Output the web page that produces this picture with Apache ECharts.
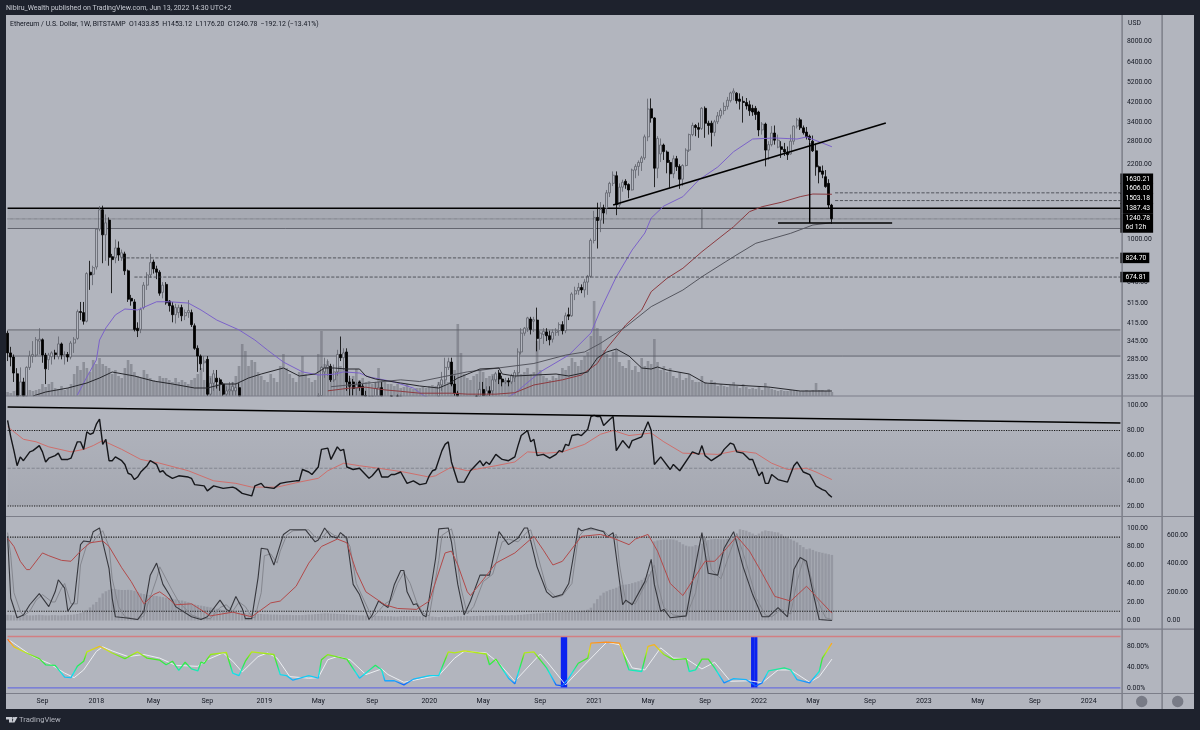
<!DOCTYPE html>
<html>
<head>
<meta charset="utf-8">
<title>Ethereum / U.S. Dollar</title>
<script src="https://cdn.jsdelivr.net/npm/echarts@6/dist/echarts.min.js"></script>
<style>
html, body { margin: 0; padding: 0; background: #1e222d; }
#chart { width: 1200px; height: 730px; }
</style>
</head>
<body>
<div id="chart"></div>
<script>
// weekly bars, week 0 = 2017-06-19, last bar = 2022-06-13
const weekCount = 352;
const xTickWeeks = [11, 28, 46, 63, 81, 98, 115, 133, 150, 168, 185, 202, 220, 237, 254, 272, 289, 306, 324, 341];
const xTickLabels = ['Sep', '2018', 'May', 'Sep', '2019', 'May', 'Sep', '2020', 'May', 'Sep', '2021', 'May', 'Sep', '2022', 'May', 'Sep', '2023', 'May', 'Sep', '2024'];
const priceTicks = [8000, 6400, 5200, 4200, 3400, 2800, 2200, 1000, 830, 640, 515, 415, 345, 285, 235];
const rsiTicks = [20, 40, 60, 80, 100];
const stochTicks = [0, 20, 40, 60, 80, 100];
const stochVolumeTicks = [0, 200, 400, 600];
const cycleTicks = [0, 40, 80];

// open, close, low, high
const candles = [
  [375,305,280,385],[305,292,265,325],[292,247,225,300],[245,190,150,260],[195,225,190,262],[225,190,170,235],[190,262,185,265],[262,295,255,312],[295,300,275,345],[298,350,292,360],
  [345,352,300,395],[350,298,275,355],[298,258,220,305],[284,298,255,305],[293,305,270,310],[305,300,285,315],[293,335,285,362],[335,298,285,340],[296,300,270,310],[300,292,278,308],
  [292,338,285,345],[338,352,305,360],[355,470,350,480],[470,466,430,520],[465,425,410,520],[425,700,420,710],[710,690,590,800],[695,745,620,760],[750,1115,730,1125],[1115,1365,1090,1420],
  [1365,1050,780,1425],[1050,1190,800,1300],[1225,830,760,1260],[835,810,570,860],[825,915,780,1000],[915,850,800,980],[830,870,800,900],[860,720,690,880],[720,535,520,730],[540,525,500,560],
  [520,390,382,535],[395,385,360,420],[390,480,375,490],[490,620,480,640],[620,690,590,710],[690,785,670,860],[790,735,700,810],[735,710,660,760],[710,570,555,725],[575,620,540,640],
  [625,515,505,640],[525,500,470,530],[500,455,420,520],[455,490,415,510],[465,490,440,505],[490,450,425,505],[450,465,430,480],[465,475,440,530],[465,410,400,480],[405,320,315,415],
  [320,295,250,330],[295,272,255,300],[275,280,250,295],[285,198,170,295],[198,222,165,235],[222,245,205,255],[234,225,210,255],[230,220,205,235],[220,198,190,225],[198,205,190,215],
  [205,208,195,225],[205,215,195,225],[205,212,195,222],[212,175,170,222],[175,115,105,180],[115,113,100,125],[115,85,83,120],[85,83,80,100],[84,130,80,150],[130,138,115,160],
  [138,155,125,160],[155,125,115,160],[125,118,115,130],[118,115,105,125],[115,107,102,120],[107,120,102,125],[120,122,118,130],[122,157,118,167],[157,130,125,160],[130,134,125,142],
  [134,134,128,140],[134,135,130,140],[135,164,132,170],[164,165,155,185],[165,167,155,190],[167,170,155,178],[170,155,145,175],[155,160,150,175],[160,195,155,200],[195,262,190,265],
  [250,262,235,290],[262,268,240,285],[265,230,225,272],[230,250,225,270],[250,300,240,315],[300,290,280,362],[290,305,255,320],[308,225,205,320],[225,215,185,240],[225,210,195,232],
  [210,218,195,225],[225,212,205,228],[215,195,170,220],[195,185,170,205],[185,172,165,195],[172,178,165,195],[178,210,170,225],[180,212,170,225],[212,172,155,225],[172,175,160,185],
  [175,180,165,185],[180,170,160,195],[170,160,155,180],[160,182,155,197],[182,185,175,197],[185,185,175,190],[185,150,140,190],[150,150,140,155],[150,148,140,155],[148,145,135,150],
  [145,133,130,150],[133,130,122,135],[130,135,125,150],[135,145,130,150],[145,165,140,175],[165,178,155,185],[178,218,170,225],[218,230,205,250],[230,262,220,290],[262,278,255,290],
  [277,220,215,290],[220,200,190,240],[200,132,105,205],[132,125,110,140],[125,135,120,145],[135,140,125,150],[140,155,135,175],[155,170,150,180],[170,185,150,195],[185,208,180,225],
  [208,195,190,225],[195,205,185,215],[205,200,180,215],[205,230,195,240],[230,245,225,250],[247,232,220,255],[232,225,215,240],[225,228,220,235],[228,225,215,235],[225,240,220,245],
  [235,248,225,255],[248,308,240,320],[308,375,300,395],[375,395,365,400],[395,440,380,445],[435,390,370,445],[425,432,380,445],[430,355,310,490],[355,375,315,385],[370,382,335,395],
  [380,365,345,395],[365,350,330,385],[352,378,340,390],[378,385,365,395],[385,410,365,420],[410,385,370,425],[385,450,375,465],[455,448,430,490],[450,565,445,575],[565,585,530,610],
  [585,605,560,635],[605,590,570,625],[590,640,545,660],[640,680,560,690],[680,990,670,1010],[990,1260,960,1350],[1260,1220,910,1470],[1225,1370,1080,1480],[1390,1320,1180,1440],[1390,1630,1300,1680],
  [1630,1800,1560,1830],[1800,1960,1750,2040],[1950,1440,1290,2040],[1440,1730,1400,1800],[1730,1820,1650,1870],[1840,1770,1700,1880],[1780,1680,1540,1800],[1680,2070,1670,2100],[2070,2150,1900,2200],[2150,2240,1950,2290],
  [2240,2350,2050,2400],[2350,2930,2300,3000],[2930,3920,2800,4370],[3930,3570,3400,4380],[3570,2110,1730,3600],[2110,2880,1900,2950],[2450,2690,2250,2880],[2690,2510,2300,2730],[2500,2240,2000,2540],[2240,1990,1720,2300],
  [1990,2330,1900,2410],[2330,2140,2050,2400],[2150,1880,1700,2200],[1880,2170,1750,2200],[2170,2550,2150,2600],[2550,3000,2500,3030],[3000,3300,2950,3400],[3300,3230,2950,3350],[3230,3170,2900,3400],[3200,3950,3150,4000],
  [3950,3380,2900,4030],[3380,3300,3000,3470],[3380,3070,2650,3470],[3070,3430,2950,3500],[3430,3650,3350,3800],[3650,3860,3550,3950],[3860,4030,3700,4200],[4030,4300,3900,4450],[4280,4640,4200,4700],[4640,4730,4300,4870],
  [4630,4280,4150,4680],[4350,4250,3900,4620],[4250,4200,3400,4480],[4200,4050,3900,4400],[4100,3850,3650,4280],[3950,3800,3650,4100],[3950,3700,3500,4050],[3800,3150,2950,3850],[3150,3350,3000,3420],[3350,2550,2150,3400],
  [2550,2700,2300,2800],[2700,3050,2650,3280],[3050,2830,2700,3300],[2630,2830,2600,3000],[2640,2570,2350,2800],[2570,2500,2400,2750],[2500,2430,2300,2650],[2450,2800,2430,3000],[2800,3280,2700,3300],[3280,3500,3200,3570],
  [3500,3220,3150,3580],[3220,3060,3000,3300],[3080,2930,2850,3250],[2950,2850,2700,3000],[2800,2530,2500,2970],[2530,2140,1950,2730],[2140,2030,1800,2170],[2050,1980,1900,2170],[1930,1740,1720,2070],[1800,1435,1380,1880],
  [1433.85,1240.78,1176.20,1453.12]
];

const volumes = [
  4,3,5,6,8,5,4,6,5,6, 7,12,9,12,14,8,7,10,6,8, 12,22,30,26,34,28,24,36,32,38, 32,30,28,22,26,20,18,28,36,32,
  24,20,18,26,22,18,16,14,20,18, 18,16,14,18,14,16,14,12,16,18, 22,28,16,14,20,16,12,14,10,12, 12,14,20,30,52,45,30,36,34,24,
  20,16,14,22,18,14,30,42,28,22, 18,14,24,40,22,18,14,16,42,65, 32,35,24,22,26,30,28,36,18,20, 27,16,18,14,15,12,14,28,16,14,
  12,12,10,12,8,9,12,8,7,8, 8,9,8,10,11,10,14,12,16,14, 22,26,72,43,22,18,16,20,22,26, 24,18,20,22,18,20,16,14,16,18,
  20,26,22,24,28,22,24,55,26,20, 18,16,20,18,22,28,26,30,38,34, 30,36,40,44,60,95,68,60,46,42, 38,44,47,34,30,28,36,26,30,24,
  38,30,35,32,57,34,26,30,24,28, 20,18,24,16,18,22,16,14,14,20, 14,12,16,14,10,12,10,9,11,14, 10,8,12,9,7,8,7,10,6,13,
  9,7,6,5,6,5,5,6,6,5, 5,5,6,5,6,13,6,6,5,7, 4
];
const volumeAverage = [[8,0],[12,4],[19,8],[25,13],[29,18],[33,24],[40,20],[46,15],[52,12],[59,8],[63,8],[68,12],[72,12],[76,18],[80,22],[87,28],[92,20],[97,22],[100,28],[103,28],[107,27],[111,27],[113,20],[116,17],[124,13],[130,10],[136,8],[139,12],[142,18],[149,27],[155,28],[156,22],[160,20],[173,22],[177,20],[183,24],[186,38],[189,44],[192,47],[196,40],[200,28],[203,27],[205,29],[208,26],[215,22],[220,13],[229,11],[240,9],[250,5],[260,5]];

const ma50 = [[22,196],[25,237],[28,283],[29,349],[31,396],[34,454],[37,483],[41,478],[47,521],[51,521],[57,514],[61,478],[66,430],[73,388],[78,349],[82,314],[87,277],[93,250],[98,242],[103,244],[106,250],[111,247],[114,237],[122,225],[128,211],[131,196],[140,170],[150,165],[160,200],[168,250],[177,298],[184,376],[187,478],[192,677],[197,896],[201,1070],[203,1252],[207,1420],[213,1566],[218,1865],[224,2137],[229,2508],[235,2864],[242,2896],[249,2864],[252,2926],[256,2783],[260,2641]];
const ma100 = [[101,205],[108,211],[113,213],[119,207],[124,204],[130,200],[140,200],[145,198],[154,198],[160,201],[166,218],[175,230],[181,242],[186,273],[189,320],[195,409],[200,478],[203,579],[208,666],[213,740],[219,880],[225,1030],[229,1143],[234,1338],[238,1410],[244,1476],[250,1566],[254,1610],[260,1606]];
const ma200 = [[102,214],[124,230],[130,226],[145,250],[166,273],[176,298],[182,308],[187,337],[195,401],[203,495],[213,589],[219,677],[229,835],[236,961],[247,1067],[254,1164],[260,1192]];

const rsiLine = [[0,88],[1,75],[2,64],[3,52],[4,59],[5,56],[7,63],[8,64],[10,68],[11,63],[12,55],[13,58],[15,60],[16,62],[17,57],[19,57],[20,58],[22,71],[23,71],[24,65],[25,79],[26,77],[27,78],[28,85],[29,89],[30,69],[31,73],[32,56],[33,56],[34,59],[36,56],[37,53],[38,46],[39,45],[40,41],[41,43],[42,47],[44,52],[45,56],[47,53],[48,47],[49,48],[50,45],[52,42],[54,44],[57,43],[58,42],[59,37],[62,36],[63,32],[65,36],[68,34],[71,35],[72,34],[74,30],[77,28],[78,36],[80,38],[81,35],[84,34],[86,38],[88,39],[91,40],[92,40],[93,49],[95,47],[96,45],[98,51],[99,65],[101,66],[102,57],[104,67],[105,64],[106,65],[107,51],[109,49],[111,50],[114,42],[115,44],[117,50],[118,43],[120,43],[121,45],[122,45],[124,47],[126,38],[128,40],[130,37],[132,38],[133,44],[134,48],[135,49],[137,64],[138,69],[139,71],[140,55],[142,39],[144,39],[146,48],[149,56],[150,52],[151,55],[152,53],[154,61],[156,57],[158,56],[160,59],[161,68],[162,76],[164,80],[165,71],[166,73],[167,60],[169,61],[171,58],[173,61],[174,64],[175,63],[176,69],[177,68],[178,76],[180,77],[181,76],[183,81],[184,91],[185,92],[186,91],[187,91],[188,84],[190,89],[191,91],[192,64],[194,72],[196,66],[197,72],[200,75],[202,87],[203,80],[204,53],[206,59],[209,49],[210,53],[212,48],[216,63],[218,61],[219,68],[220,60],[222,56],[225,61],[226,65],[228,70],[229,69],[230,63],[232,62],[234,57],[235,57],[237,44],[238,47],[239,38],[240,38],[241,45],[243,41],[246,39],[248,52],[249,55],[251,47],[253,45],[255,36],[257,33],[258,32],[259,29],[260,27]];
const rsiAverage = [[0,83],[2,79],[5,73],[9,71],[13,67],[20,63],[24,65],[27,68],[30,72],[36,65],[42,57],[48,54],[57,48],[65,40],[72,38],[77,35],[85,35],[92,39],[98,42],[101,48],[106,54],[111,52],[117,50],[125,47],[133,43],[135,44],[140,51],[145,48],[154,52],[160,55],[164,63],[170,62],[175,63],[182,69],[187,77],[191,80],[196,76],[203,78],[207,71],[213,62],[224,61],[230,64],[236,62],[241,54],[246,49],[252,50],[255,47],[260,41]];
const rsiTrendline = [[0,98.7],[351,86]];

const stochK = [[0,91],[1,24],[3,3],[5,6],[7,17],[10,29],[13,15],[15,31],[16,44],[18,35],[19,10],[21,20],[23,82],[24,86],[26,85],[27,96],[29,100],[30,85],[32,56],[33,24],[34,4],[37,3],[41,1],[43,10],[45,49],[47,62],[49,39],[51,28],[53,15],[58,4],[61,1],[63,4],[67,22],[69,12],[70,10],[72,26],[74,13],[75,2],[77,2],[79,46],[80,78],[82,77],[84,60],[85,71],[87,93],[89,98],[94,98],[97,85],[98,87],[100,100],[102,91],[104,89],[105,95],[107,89],[109,39],[111,28],[114,1],[115,6],[117,21],[120,14],[122,39],[124,54],[125,54],[126,31],[128,17],[129,18],[131,6],[132,4],[133,24],[135,67],[136,99],[139,100],[140,85],[142,39],[144,6],[146,21],[149,49],[152,49],[155,96],[158,82],[161,89],[163,100],[164,100],[167,58],[170,31],[172,25],[175,28],[177,40],[180,100],[181,97],[184,100],[188,96],[189,90],[191,95],[194,17],[195,22],[197,17],[201,42],[203,66],[204,39],[206,10],[207,12],[209,3],[214,5],[216,42],[219,95],[221,51],[224,49],[226,78],[229,96],[232,58],[235,28],[238,4],[240,4],[243,14],[246,4],[248,55],[250,68],[252,64],[254,31],[256,1],[260,0]];
const stochD = [[0,95],[1,70],[2,30],[4,10],[5,5],[7,10],[9,22],[11,28],[14,20],[15,20],[17,35],[18,40],[20,18],[22,18],[23,60],[25,82],[27,85],[28,90],[30,97],[32,80],[33,45],[35,15],[37,4],[41,1],[43,5],[45,25],[47,45],[48,58],[50,45],[52,32],[54,20],[58,6],[61,2],[64,2],[67,14],[69,17],[71,10],[73,20],[75,15],[77,4],[78,3],[80,30],[81,70],[83,72],[85,62],[86,75],[88,92],[90,97],[95,98],[97,90],[99,88],[101,97],[103,92],[105,90],[106,93],[108,80],[110,40],[112,25],[115,3],[117,10],[119,18],[121,22],[123,40],[125,52],[127,40],[129,20],[131,8],[133,5],[134,25],[136,65],[137,92],[140,99],[141,85],[143,35],[145,7],[147,15],[150,42],[153,50],[156,85],[158,88],[161,85],[164,96],[165,98],[168,60],[170,35],[173,25],[175,27],[178,40],[180,90],[182,98],[185,98],[188,97],[190,90],[192,93],[193,60],[195,20],[198,18],[201,38],[204,60],[205,40],[207,14],[210,6],[214,4],[217,30],[220,90],[222,55],[225,45],[228,75],[230,94],[233,62],[236,25],[239,6],[241,4],[244,12],[247,7],[249,42],[251,66],[253,52],[255,25],[258,3],[260,1]];
const stochAverage = [[0,89],[2,80],[4,64],[6,55],[7,55],[11,73],[13,70],[17,65],[20,64],[23,75],[26,84],[30,86],[32,80],[36,57],[39,42],[43,18],[46,28],[48,31],[50,26],[53,17],[58,18],[64,5],[71,9],[77,4],[83,19],[86,21],[91,37],[95,62],[99,80],[104,88],[107,84],[110,53],[113,31],[119,17],[123,13],[129,12],[133,21],[138,73],[140,75],[142,60],[145,31],[146,27],[150,44],[154,62],[160,73],[166,91],[169,76],[172,60],[175,64],[181,91],[187,93],[191,89],[196,82],[198,88],[202,93],[205,75],[209,40],[213,27],[220,64],[223,64],[226,75],[230,91],[234,75],[238,51],[242,26],[247,21],[252,37],[255,26],[260,8]];
const stochVolume = [
  40,38,36,36,34,36,38,36,36,38, 40,38,36,36,38,38,36,36,38,40, 40,42,46,52,60,74,92,112,130,160,
  190,205,215,222,220,216,214,214,215,213, 208,200,190,186,180,178,175,172,168,164, 160,158,152,148,142,140,134,128,120,112,
  108,104,100,96,92,88,82,78,74,70, 68,64,60,56,54,52,50,50,48,46, 46,44,44,42,42,42,40,40,40,40,
  38,38,38,38,40,42,42,44,46,48, 50,50,48,48,46,44,44,42,40,40, 38,36,36,34,34,34,34,32,32,30,
  30,30,28,28,30,32,30,30,32,30, 30,30,32,30,28,26,24,26,28,26, 26,28,30,30,30,32,30,32,32,34,
  32,34,34,36,34,36,38,36,36,38, 36,40,40,42,44,46,48,50,50,52, 54,54,56,56,58,60,62,62,64,64,
  66,68,70,76,90,120,150,175,195,205, 215,222,230,240,250,252,256,262,268,275, 285,300,325,345,555,562,565,568,570,570,
  568,562,550,535,525,520,520,530,525,540, 560,565,570,572,572,570,570,572,575,575, 575,640,635,630,620,610,600,610,625,632,
  628,625,620,618,605,590,582,570,560,548, 530,515,500,505,495,485,480,475,470,465, 460
];

const cycleLine = [[0,95],[2,80],[6,68],[10,57],[12,45],[15,44],[18,21],[20,20],[22,42],[24,52],[25,70],[29,81],[33,68],[37,57],[41,70],[44,58],[48,54],[50,45],[52,52],[54,34],[56,50],[58,37],[60,33],[61,50],[62,48],[64,65],[69,69],[71,29],[73,24],[75,52],[77,70],[84,65],[86,26],[88,24],[90,15],[95,24],[98,19],[99,55],[101,65],[107,56],[111,19],[116,44],[118,35],[119,14],[122,14],[125,6],[128,17],[133,24],[136,24],[139,70],[141,68],[144,72],[151,66],[152,45],[154,56],[158,19],[160,8],[163,68],[166,70],[170,39],[173,6],[175,4],[177,19],[180,48],[183,58],[184,87],[189,89],[193,87],[194,71],[196,35],[200,32],[202,81],[204,84],[207,65],[210,55],[214,57],[215,32],[217,35],[219,56],[221,56],[223,39],[226,10],[229,18],[233,16],[236,4],[238,10],[240,33],[245,39],[247,35],[249,16],[253,10],[256,32],[257,58],[260,87]];
const cycleSignal = [[0,94],[1,91],[8,61],[13,48],[18,29],[21,20],[24,35],[28,71],[30,80],[33,72],[38,61],[43,65],[48,58],[53,44],[60,42],[63,55],[68,68],[71,52],[74,31],[79,61],[82,68],[85,58],[89,22],[95,19],[98,20],[101,55],[104,61],[108,55],[113,26],[118,37],[120,26],[125,11],[132,20],[136,24],[141,58],[144,71],[151,68],[155,48],[160,13],[168,66],[170,52],[176,6],[182,45],[189,89],[193,84],[197,39],[201,35],[206,78],[210,58],[214,57],[219,37],[223,50],[228,13],[234,14],[238,10],[243,35],[247,35],[253,11],[256,22],[260,56]];
const cycleSignalBars = [[175,100],[176,100],[235,100],[236,100]];

// price levels and drawings, [week, price]
const lastWeek = 351;
const trendline = [[191,1435],[277,3387]];
const bottomLevel = [[243,1189],[279,1189]];
const dropMarker = [[253,2746],[253,1189]];
const zoneMarker = [[219,1387.43],[219,1122]];
const zoneUpper = [1387.43, 1122];
const zoneLower = [388, 295];
// tag text, price, first week of its dotted line (null: no line), dy to keep tags stacked
const priceTags = [
  ['1630.21', 1630.21, 261, -14],
  ['1606.00', 1606, null, -5.5],
  ['1503.18', 1503.18, 261, -2],
  ['1387.43', 1387.43, null, 0],
  ['1240.78\n6d 12h', 1240.78, 0, 4],
  ['824.70', 824.70, 36, 0],
  ['674.81', 674.81, 40, 0]
];

const PANEL = '#b2b5be';
const DARK = '#1e222d';
const TEXT = '#131722';
const FONT = 'Roboto, "Liberation Sans", sans-serif';
const PRICE_MIN = 194.2;
const PRICE_MAX = 10495;

const categories = Array.from({ length: weekCount }, (_, i) => String(i));

const chartDom = document.getElementById('chart');
const myChart = echarts.init(chartDom, null, { renderer: 'canvas', width: 1200, height: 730 });

// 价格坐标下限以下的部分不画（蜡烛图的影线不会被裁剪）
function visibleCandle(c) {
  if (c[3] <= PRICE_MIN) return ['-', '-', '-', '-'];
  return c.map(v => Math.max(v, PRICE_MIN));
}

// 一条没有符号的折线
function lineSeries(name, data, yAxisIndex, gridIndex, color, width, type, z) {
  return {
    name: name,
    type: 'line',
    xAxisIndex: gridIndex,
    yAxisIndex: yAxisIndex,
    data: data,
    symbol: 'none',
    silent: true,
    z: z || 4,
    lineStyle: { color: color, width: width, type: type || 'solid' }
  };
}

function levelSeries(name, value, from, yAxisIndex, gridIndex, color, width, type) {
  return lineSeries(name, [[from, value], [lastWeek, value]], yAxisIndex, gridIndex, color, width, type, 3);
}

function zoneSeries(name, range, yAxisIndex, gridIndex, color) {
  return {
    name: name,
    type: 'line',
    xAxisIndex: gridIndex,
    yAxisIndex: yAxisIndex,
    data: [],
    silent: true,
    z: 1,
    markArea: {
      silent: true,
      itemStyle: { color: color },
      data: [[{ coord: [0, range[0]] }, { coord: [lastWeek, range[1]] }]]
    }
  };
}

function tagSeries(tag) {
  const from = tag[2] === null ? lastWeek - 1 : tag[2];
  const s = levelSeries('tag ' + tag[0], tag[1], from, 0, 0, tag[2] === null ? 'rgba(0,0,0,0)' : '#3a3c44', tag[2] === 0 ? 0.6 : 0.8, tag[2] === 0 ? 'dotted' : 'dashed');
  s.z = 5;
  s.endLabel = {
    show: true,
    formatter: tag[0],
    color: '#ffffff',
    backgroundColor: '#000000',
    fontFamily: FONT,
    fontSize: 6.8,
    lineHeight: 9,
    padding: [1, 3, 0.5, 5],
    distance: 0,
    offset: [0, tag[3]]
  };
  return s;
}

const pct = v => v.toFixed(2) + '%';
const fix = v => Number(v).toFixed(2);

function yAxis(gridIndex, min, max, ticks, formatter, extra) {
  return Object.assign({
    type: 'value',
    gridIndex: gridIndex,
    position: 'right',
    min: min,
    max: max,
    scale: true,
    axisLine: { show: false },
    axisTick: { show: false },
    splitLine: { show: false },
    axisLabel: {
      show: true,
      customValues: ticks,
      formatter: formatter,
      color: TEXT,
      fontFamily: FONT,
      fontSize: 6.8,
      margin: 5,
      padding: [2, 0, 0, 0]
    }
  }, extra || {});
}

function xAxis(gridIndex, showLabels) {
  return {
    type: 'category',
    gridIndex: gridIndex,
    data: categories,
    boundaryGap: true,
    axisLine: { show: false },
    axisTick: { show: false },
    splitLine: { show: false },
    axisLabel: {
      show: showLabels,
      interval: (i) => xTickWeeks.includes(i),
      formatter: (v) => xTickLabels[xTickWeeks.indexOf(Number(v))],
      color: TEXT,
      fontFamily: FONT,
      fontSize: 7,
      margin: 5,
      hideOverlap: false
    }
  };
}

const darkZone = new echarts.graphic.LinearGradient(0, 0, 0, 1, [
  { offset: 0, color: 'rgba(120,123,134,0.06)' },
  { offset: 1, color: 'rgba(120,123,134,0.22)' }
]);

const cycleStyle = lineSeries('Cycle', cycleLine, 5, 3, '#30e030', 1.3, 'solid', 5);
delete cycleStyle.lineStyle.color;

const series = [
  // 主图
  zoneSeries('zone upper', zoneUpper, 0, 0, 'rgba(110,112,124,0.16)'),
  zoneSeries('zone lower', zoneLower, 0, 0, 'rgba(110,112,124,0.16)'),
  levelSeries('zone upper top', zoneUpper[0], 0, 0, 0, '#000000', 1.5),
  levelSeries('zone upper bottom', zoneUpper[1], 0, 0, 0, '#5a5c66', 0.9),
  levelSeries('zone lower top', zoneLower[0], 0, 0, 0, '#5a5c66', 0.9),
  levelSeries('zone lower bottom', zoneLower[1], 0, 0, 0, '#5a5c66', 0.9),
  {
    name: 'Volume',
    type: 'bar',
    xAxisIndex: 0,
    yAxisIndex: 1,
    data: volumes,
    barWidth: 2.6,
    silent: true,
    z: 2,
    itemStyle: { color: 'rgba(88,90,100,0.42)' }
  },
  {
    name: 'ETHUSD',
    type: 'candlestick',
    xAxisIndex: 0,
    yAxisIndex: 0,
    data: candles.map(visibleCandle),
    barWidth: 2.5,
    silent: true,
    z: 3,
    itemStyle: { color: PANEL, color0: '#000000', borderColor: '#60626b', borderColor0: '#000000', borderWidth: 0.8 }
  },
  lineSeries('MA 50', ma50, 0, 0, '#7b62c9', 1),
  lineSeries('MA 100', ma100, 0, 0, '#8c3b40', 1),
  lineSeries('MA 200', ma200, 0, 0, '#55565f', 1),
  lineSeries('Volume MA', volumeAverage, 1, 0, '#26272c', 1),
  lineSeries('Trendline', trendline, 0, 0, '#000000', 1.8, 'solid', 6),
  lineSeries('Bottom level', bottomLevel, 0, 0, '#000000', 1.6, 'solid', 6),
  lineSeries('Drop marker', dropMarker, 0, 0, '#000000', 1.4, 'solid', 6),
  lineSeries('Zone marker', zoneMarker, 0, 0, '#4a4c55', 0.8, 'solid', 6)
].concat(priceTags.map(tagSeries)).concat([
  // RSI
  zoneSeries('rsi band', [80, 20], 2, 1, darkZone),
  levelSeries('rsi 80', 80, 0, 2, 1, '#1a1a1a', 1.2, 'dotted'),
  levelSeries('rsi 50', 50, 0, 2, 1, '#787b86', 0.8, 'dashed'),
  levelSeries('rsi 20', 20, 0, 2, 1, '#1a1a1a', 1.2, 'dotted'),
  lineSeries('RSI average', rsiAverage, 2, 1, '#cf6f6c', 1),
  lineSeries('RSI', rsiLine, 2, 1, '#15161a', 1.4, 'solid', 5),
  lineSeries('RSI trendline', rsiTrendline, 2, 1, '#000000', 1.4, 'solid', 6),
  // Stoch
  zoneSeries('stoch band', [90, 10], 3, 2, 'rgba(120,123,134,0.11)'),
  {
    name: 'Stoch volume',
    type: 'bar',
    xAxisIndex: 2,
    yAxisIndex: 4,
    data: stochVolume,
    barWidth: 2.4,
    silent: true,
    z: 2,
    itemStyle: { color: 'rgba(108,110,120,0.35)' }
  },
  levelSeries('stoch 90', 90, 0, 3, 2, '#1a1a1a', 1.2, 'dotted'),
  levelSeries('stoch 10', 10, 0, 3, 2, '#1a1a1a', 1.2, 'dotted'),
  lineSeries('Stoch D', stochD, 3, 2, '#85878f', 1),
  lineSeries('Stoch K', stochK, 3, 2, '#36373d', 1.1, 'solid', 5),
  lineSeries('Stoch average', stochAverage, 3, 2, '#b24a4a', 1, 'solid', 5),
  // 底部指标
  levelSeries('cycle top', 100, 0, 5, 3, '#d27f83', 1.6),
  levelSeries('cycle bottom', 0, 0, 5, 3, '#6a70dc', 1.2),
  {
    name: 'Cycle bars',
    type: 'bar',
    xAxisIndex: 3,
    yAxisIndex: 5,
    data: cycleSignalBars,
    barWidth: 3.2,
    silent: true,
    z: 3,
    itemStyle: { color: '#0a22f0' }
  },
  lineSeries('Cycle signal', cycleSignal, 5, 3, '#eceef2', 1),
  cycleStyle
]);

const cycleSeriesIndex = series.indexOf(cycleStyle);

const option = {
  animation: false,
  backgroundColor: DARK,
  textStyle: { fontFamily: FONT },
  grid: [
    { left: 6, top: 15, width: 1116, height: 381 },
    { left: 6, top: 396.5, width: 1116, height: 120 },
    { left: 6, top: 516.5, width: 1116, height: 112.5 },
    { left: 6, top: 629, width: 1116, height: 64 }
  ],
  xAxis: [xAxis(0, false), xAxis(1, false), xAxis(2, false), xAxis(3, true)],
  yAxis: [
    yAxis(0, PRICE_MIN, PRICE_MAX, priceTicks, fix, { type: 'log', logBase: 10, scale: false }),
    { type: 'value', gridIndex: 0, position: 'left', min: 0, max: 381, show: false },
    yAxis(1, 11.64, 107.03, rsiTicks, fix),
    yAxis(2, -9.2, 112.4, stochTicks, fix),
    yAxis(2, -59.6, 729.8, stochVolumeTicks, fix, { offset: 40 }),
    yAxis(3, -9.8, 114.6, cycleTicks, pct)
  ],
  visualMap: [{
    type: 'continuous',
    show: false,
    seriesIndex: cycleSeriesIndex,
    dimension: 1,
    min: 0,
    max: 100,
    inRange: { color: ['#0a30ff', '#18a8ff', '#10e8e8', '#20ee60', '#50e820', '#c8e818', '#ffa820', '#ff3010'] }
  }],
  series: series,
  graphic: [
    { type: 'rect', z: -1, silent: true, shape: { x: 6, y: 15, width: 1188, height: 694 }, style: { fill: PANEL } },
    // 分隔线
    { type: 'rect', z: 20, silent: true, shape: { x: 1121.5, y: 15, width: 1.2, height: 694 }, style: { fill: '#6f717c' } },
    { type: 'rect', z: 20, silent: true, shape: { x: 1161.5, y: 15, width: 1.2, height: 694 }, style: { fill: '#6f717c' } },
    { type: 'rect', z: 20, silent: true, shape: { x: 6, y: 395.5, width: 1188, height: 1 }, style: { fill: '#7c7e89' } },
    { type: 'rect', z: 20, silent: true, shape: { x: 6, y: 516, width: 1188, height: 1 }, style: { fill: '#7c7e89' } },
    { type: 'rect', z: 20, silent: true, shape: { x: 6, y: 628.5, width: 1188, height: 1.2 }, style: { fill: '#7c7e89' } },
    { type: 'rect', z: 20, silent: true, shape: { x: 6, y: 693, width: 1188, height: 1 }, style: { fill: '#7c7e89' } },
    { type: 'circle', z: 20, silent: true, shape: { cx: 1141.7, cy: 701.5, r: 5.7 }, style: { fill: '#787b86' } },
    { type: 'circle', z: 20, silent: true, shape: { cx: 1177.7, cy: 701.5, r: 5.7 }, style: { fill: '#787b86' } },
    { type: 'text', z: 20, silent: true, x: 6, y: 5, style: { text: 'Nibiru_Wealth published on TradingView.com, Jun 13, 2022 14:30 UTC+2', fill: '#c8cbd3', fontFamily: FONT, fontSize: 7 } },
    { type: 'text', z: 20, silent: true, x: 10, y: 21, style: { text: 'Ethereum / U.S. Dollar, 1W, BITSTAMP  O1433.85  H1453.12  L1176.20  C1240.78  \u2212192.12 (\u221213.41%)', fill: TEXT, fontFamily: FONT, fontSize: 6.9 } },
    { type: 'text', z: 20, silent: true, x: 1128, y: 20, style: { text: 'USD', fill: TEXT, fontFamily: FONT, fontSize: 6.8 } },
    // 页脚标志
    { type: 'polygon', z: 20, silent: true, shape: { points: [[6, 717], [12, 717], [12, 722.5], [9, 722.5], [9, 719.5], [6, 719.5]] }, style: { fill: '#c8cbd3' } },
    { type: 'circle', z: 20, silent: true, shape: { cx: 13.4, cy: 718.2, r: 1.2 }, style: { fill: '#c8cbd3' } },
    { type: 'polygon', z: 20, silent: true, shape: { points: [[14.5, 717], [17.5, 717], [14.5, 722.5], [11.8, 722.5]] }, style: { fill: '#c8cbd3' } },
    { type: 'text', z: 20, silent: true, x: 19, y: 716, style: { text: 'TradingView', fill: '#b2b5be', fontFamily: FONT, fontSize: 7.6 } }
  ]
};

myChart.setOption(option);
</script>
</body>
</html>
